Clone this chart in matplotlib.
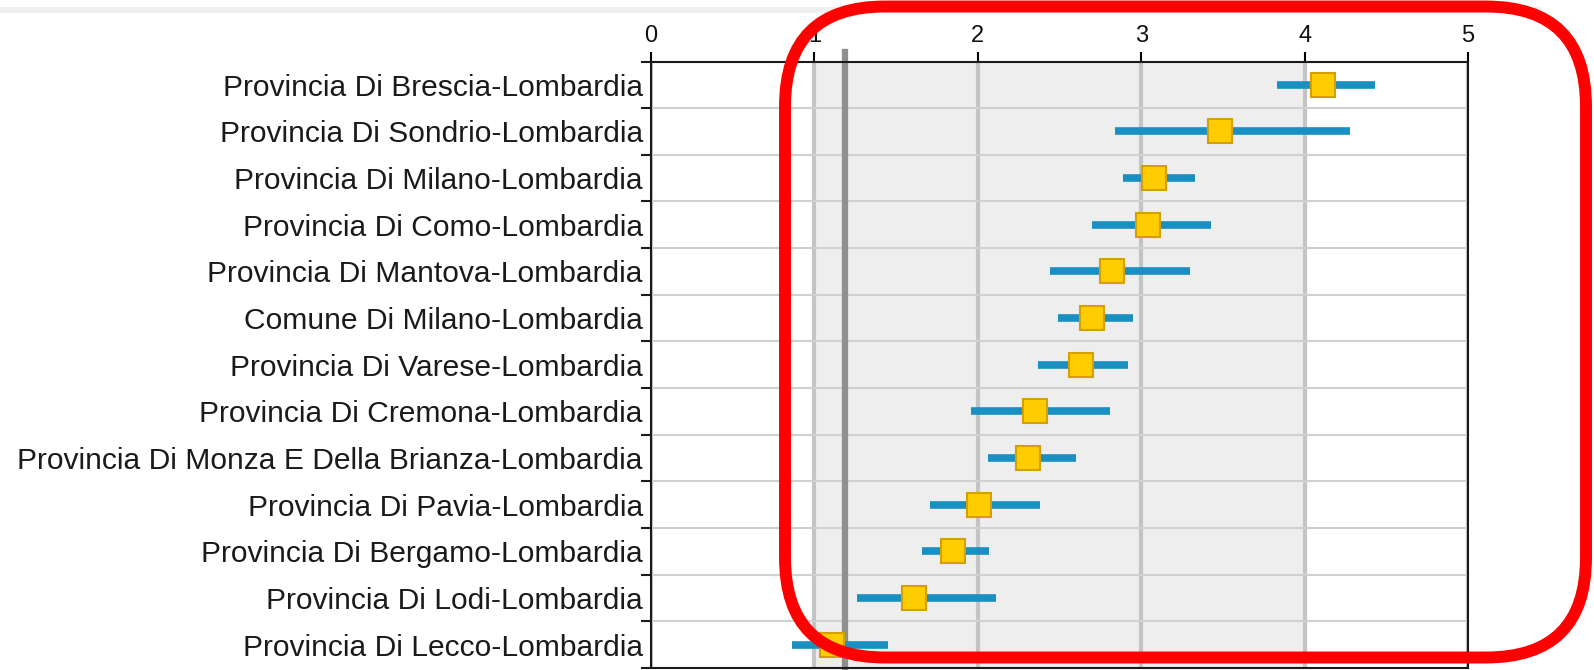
import matplotlib
matplotlib.use("Agg")
import matplotlib.pyplot as plt
from matplotlib.patches import FancyBboxPatch, Rectangle

labels = [
    "Provincia Di Brescia-Lombardia",
    "Provincia Di Sondrio-Lombardia",
    "Provincia Di Milano-Lombardia",
    "Provincia Di Como-Lombardia",
    "Provincia Di Mantova-Lombardia",
    "Comune Di Milano-Lombardia",
    "Provincia Di Varese-Lombardia",
    "Provincia Di Cremona-Lombardia",
    "Provincia Di Monza E Della Brianza-Lombardia",
    "Provincia Di Pavia-Lombardia",
    "Provincia Di Bergamo-Lombardia",
    "Provincia Di Lodi-Lombardia",
    "Provincia Di Lecco-Lombardia",
]
rate = [4.11, 3.48, 3.08, 3.04, 2.82, 2.70, 2.63, 2.35, 2.31, 2.01, 1.85, 1.61, 1.11]
lower = [3.83, 2.84, 2.89, 2.70, 2.44, 2.49, 2.37, 1.96, 2.06, 1.71, 1.66, 1.26, 0.86]
upper = [4.43, 4.28, 3.33, 3.43, 3.30, 2.95, 2.92, 2.81, 2.60, 2.38, 2.07, 2.11, 1.45]
overall_rate = 1.19
band = (1, 4)
xticks = [0, 1, 2, 3, 4, 5]

plt.rcParams["font.family"] = ["Liberation Sans", "DejaVu Sans"]

W, H = 1594, 670
fig = plt.figure(figsize=(W / 100, H / 100), dpi=100)
ax = fig.add_axes([651 / W, 2 / H, 817 / W, 606.5 / H])

y = list(range(len(labels)))

ax.axvspan(band[0], band[1], color="#eeeeee", lw=0, zorder=0)
ax.axvline(overall_rate, ymin=0, ymax=1 + 9.5 / 606.5, color="#8f8f8f",
           lw=4.5, clip_on=False, zorder=2)
ax.hlines(y, lower, upper, color="#1a8fc1", lw=5.5, capstyle="butt", zorder=3)
ax.plot(rate, y, ls="none", marker="s", ms=17, mfc="#ffcc00",
        mec="#d4a000", mew=1.5, zorder=4)

ax.set_xlim(0, 5)
ax.set_ylim(len(labels) - 0.5, -0.5)

ax.set_xticks(xticks)
ax.xaxis.tick_top()
ax.tick_params(axis="x", which="major", length=7.5, width=1.5, pad=3,
               labelsize=17, labelcolor="#111111")

ax.set_yticks(y)
ax.set_yticklabels(labels)
ax.set_yticks([i - 0.5 for i in range(len(labels) + 1)], minor=True)
ax.tick_params(axis="y", which="major", length=0, pad=5.8,
               labelsize=21.6, labelcolor="#1a1a1a")
ax.tick_params(axis="y", which="minor", length=7, width=1.5, color="#1a1a1a")

ax.set_axisbelow(True)
ax.grid(axis="x", which="major", color="#c4c4c4", lw=3)
ax.grid(axis="y", which="minor", color="#d0d0d0", lw=1.5)

for s in ax.spines.values():
    s.set_linewidth(1.5)
    s.set_color("#1a1a1a")

# overlay in pixel units for the page band and the red highlight box
ov = fig.add_axes([0, 0, 1, 1], zorder=10)
ov.set_xlim(0, W)
ov.set_ylim(H, 0)
ov.axis("off")
ov.add_patch(Rectangle((0, 7), 1542, 6, color="#f0f0f0", lw=0, zorder=1))
ov.add_patch(FancyBboxPatch((785, 6.5), 801, 651,
                            boxstyle="round,pad=0,rounding_size=100",
                            fill=False, ec="#ff0000", lw=8.6, zorder=2))

fig.savefig("out.png", dpi=100)
